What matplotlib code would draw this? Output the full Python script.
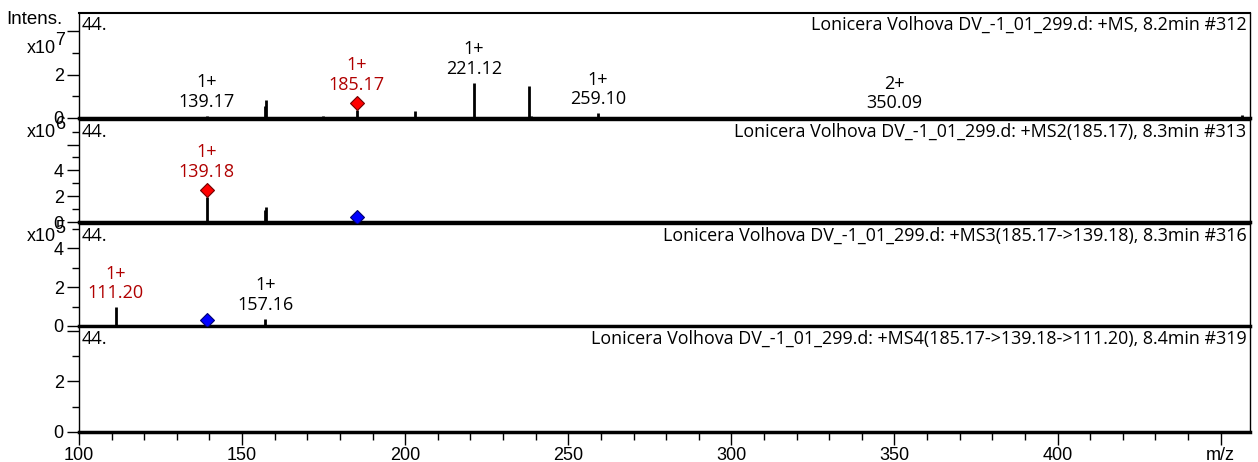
import matplotlib
matplotlib.use("Agg")
import matplotlib.pyplot as plt
from matplotlib.ticker import MultipleLocator, FixedLocator, FixedFormatter

plt.rcParams["font.family"] = ["Liberation Sans", "DejaVu Sans"]

# ---- data (intensities in units of the panel's exponent) ----
titles = [
    "Lonicera Volhova DV_-1_01_299.d: +MS, 8.2min #312",
    "Lonicera Volhova DV_-1_01_299.d: +MS2(185.17), 8.3min #313",
    "Lonicera Volhova DV_-1_01_299.d: +MS3(185.17->139.18), 8.3min #316",
    "Lonicera Volhova DV_-1_01_299.d: +MS4(185.17->139.18->111.20), 8.4min #319",
]
exponents = [7, 6, 5, None]
ymax = [4.85, 7.9, 5.25, 4.15]
ytick_labels = [["0", "2", ""], ["0", "2", "4", ""], ["0", "2", "4"], ["0", "2", ""]]

ms1_mz = [111.0, 129.0, 139.17, 156.9, 157.2, 174.9, 185.17, 202.9, 221.12, 222.0, 237.9, 238.6, 259.10, 350.09, 456.6]
ms1_int = [0.02, 0.03, 0.10, 0.55, 0.84, 0.08, 0.37, 0.33, 1.63, 0.06, 1.49, 0.08, 0.23, 0.04, 0.15]
ms2_mz = [139.18, 156.9, 157.2]
ms2_int = [1.95, 0.9, 1.2]
ms3_mz = [111.20, 157.16]
ms3_int = [0.97, 0.38]
ms4_mz = []
ms4_int = []

# labelled peaks: (mz, charge, red?)
ms1_labels = [(139.17, "1+", False), (185.17, "1+", True), (221.12, "1+", False),
              (259.10, "1+", False), (350.09, "2+", False)]
ms2_labels = [(139.18, "1+", True)]
ms3_labels = [(111.20, "1+", True), (157.16, "1+", False)]
ms4_labels = []

# precursor diamonds: (mz, intensity, colour)
ms1_diamonds = [(185.17, 0.70, "red")]
ms2_diamonds = [(139.18, 2.5, "red"), (185.17, 0.4, "blue")]
ms3_diamonds = [(139.18, 0.3, "blue")]
ms4_diamonds = []

panels = [
    (ms1_mz, ms1_int, ms1_labels, ms1_diamonds),
    (ms2_mz, ms2_int, ms2_labels, ms2_diamonds),
    (ms3_mz, ms3_int, ms3_labels, ms3_diamonds),
    (ms4_mz, ms4_int, ms4_labels, ms4_diamonds),
]

W, H = 1258, 462
fig = plt.figure(figsize=(W / 100, H / 100), dpi=100)

# panel pixel extents (top, bottom)
extents = [(13, 118), (120, 222), (224, 326), (327, 432)]
exp_baselines = [53, 137, 241]
left, right = 79, 1250

label_font = "Open Sans"
dark_red = "#b00000"

for i, ((top, bot), (mz, inten, labels, diamonds)) in enumerate(zip(extents, panels)):
    ax = fig.add_axes([left / W, 1 - bot / H, (right - left) / W, (bot - top) / H])
    ax.set_xlim(100, 459)
    ax.set_ylim(0, ymax[i])

    if mz:
        ax.vlines(mz, 0, inten, color="black", lw=2)
    for dmz, dint, col in diamonds:
        ax.plot(dmz, dint, marker="D", ms=7,
                mfc="#ff0000" if col == "red" else "#0000ff",
                mec="#700000" if col == "red" else "#000070", mew=0.8,
                zorder=5, clip_on=False)

    lookup = dict(zip(mz, inten))
    dlook = {d[0]: d[1] for d in diamonds}
    for lmz, charge, red in labels:
        yv = dlook.get(lmz, lookup.get(lmz, 0))
        off = 9 if lmz in dlook else 5
        ax.annotate(f"{charge}\n{lmz:.2f}", (lmz, yv), xytext=(0, off),
                    textcoords="offset pixels", ha="center", va="bottom",
                    fontsize=13, family=label_font, linespacing=1.1,
                    color=dark_red if red else "black")

    ax.text(0.002, 0.975, "44.", transform=ax.transAxes, ha="left", va="top",
            fontsize=13, family=label_font)
    ax.text(0.997, 0.975, titles[i], transform=ax.transAxes, ha="right", va="top",
            fontsize=12.9, family=label_font)

    # y ticks
    majors = list(range(0, int(ymax[i] // 2) * 2 + 1, 2))
    ax.yaxis.set_major_locator(FixedLocator(majors))
    ax.yaxis.set_major_formatter(FixedFormatter(ytick_labels[i]))
    ax.yaxis.set_minor_locator(MultipleLocator(1))
    ax.tick_params(axis="y", which="major", direction="out", length=9, width=1,
                   labelsize=13, pad=2)
    ax.tick_params(axis="y", which="minor", direction="out", length=5, width=1)

    for s in ["left", "right", "top"]:
        ax.spines[s].set_linewidth(1.0)
    ax.spines["bottom"].set_linewidth(2.5)
    if i == 0:
        ax.spines["top"].set_linewidth(1.5)

    ax.xaxis.set_major_locator(MultipleLocator(50))
    ax.xaxis.set_minor_locator(MultipleLocator(10))
    if i < 3:
        ax.tick_params(axis="x", which="both", bottom=False, labelbottom=False)
    else:
        ax.tick_params(axis="x", which="major", direction="out", length=9,
                       width=1, labelsize=13, pad=2)
        ax.tick_params(axis="x", which="minor", direction="out", length=6, width=1)
        ticks = list(range(100, 451, 50))
        ax.set_xticks(ticks)
        ax.set_xticklabels([str(t) for t in ticks[:-1]] + ["m/z"])

    if exponents[i] is not None:
        b = 1 - exp_baselines[i] / H
        fig.text(56 / W, b, "x10", ha="right", va="baseline", fontsize=13)
        fig.text(55 / W, b + 8 / H, str(exponents[i]), ha="left", va="baseline",
                 fontsize=13)

fig.text(63 / W, 1 - 11 / H, "Intens.", ha="right", va="top", fontsize=13.5)

fig.savefig("out.png", dpi=100)
